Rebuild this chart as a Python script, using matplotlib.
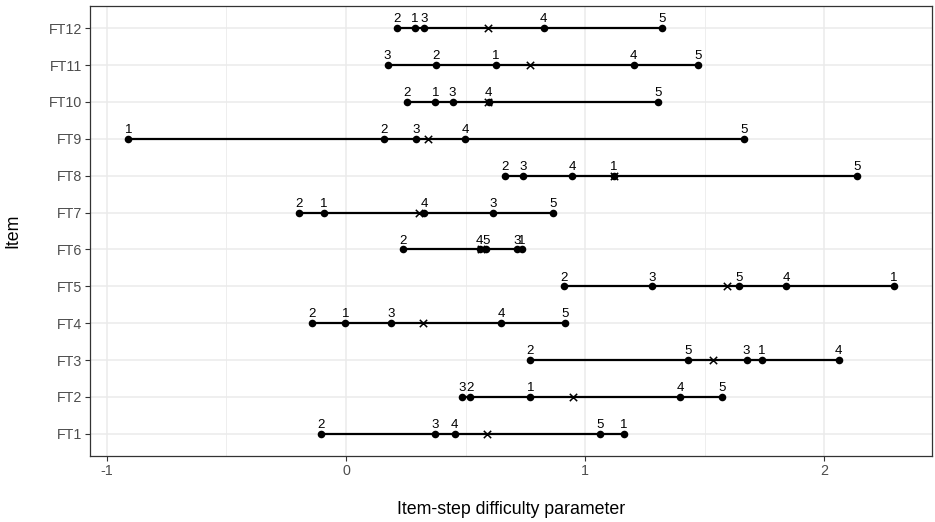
import numpy as np
import matplotlib
matplotlib.use("Agg")
import matplotlib.pyplot as plt
from matplotlib.ticker import MultipleLocator

items = ["FT1", "FT2", "FT3", "FT4", "FT5", "FT6", "FT7", "FT8", "FT9", "FT10", "FT11", "FT12"]
step1 = [1.161, 0.771, 1.738, -0.003, 2.290, 0.734, -0.093, 1.121, -0.910, 0.374, 0.626, 0.289]
step2 = [-0.106, 0.519, 0.771, -0.141, 0.911, 0.237, -0.196, 0.664, 0.159, 0.257, 0.377, 0.212]
step3 = [0.374, 0.484, 1.675, 0.189, 1.278, 0.714, 0.616, 0.739, 0.292, 0.446, 0.174, 0.327]
step4 = [0.454, 1.396, 2.060, 0.649, 1.840, 0.559, 0.327, 0.946, 0.499, 0.596, 1.203, 0.826]
step5 = [1.063, 1.571, 1.431, 0.916, 1.643, 0.586, 0.864, 2.138, 1.665, 1.306, 1.473, 1.321]
step_labels = ["1", "2", "3", "4", "5"]
x_ticks = [-1, 0, 1, 2]

plt.rcParams['font.family'] = ['Liberation Sans', 'DejaVu Sans']

steps = np.array([step1, step2, step3, step4, step5])  # shape (5, 12)
means = steps.mean(axis=0)

fig = plt.figure(figsize=(9.35, 5.22), dpi=100)
ax = fig.add_axes([90/935, 1-456/522, (932-90)/935, (456-6)/522])

ypos = np.arange(len(items))
# segments
ax.hlines(ypos, steps.min(axis=0), steps.max(axis=0), color='black', lw=1.6, zorder=3)
# points and labels
for s in range(5):
    ax.scatter(steps[s], ypos, s=30, color='black', zorder=4, linewidths=0)
    for i in range(len(items)):
        ax.annotate(step_labels[s], (steps[s][i], ypos[i]), xytext=(0, 2.0),
                    textcoords='offset points', ha='center', va='bottom',
                    fontsize=9.5, color='black', zorder=5)
# mean markers
ax.scatter(means, ypos, marker='x', s=28, color='black', linewidths=1.1, zorder=4)

xmin = steps.min(); xmax = steps.max()
pad = 0.05 * (xmax - xmin)
ax.set_xlim(xmin - pad, xmax + pad)
ax.set_ylim(-0.6, len(items) - 1 + 0.6)
ax.set_yticks(ypos)
ax.set_yticklabels(items)
ax.set_xticks(x_ticks)
ax.set_xticklabels(["-1", "0", "1", "2"])
ax.xaxis.set_minor_locator(MultipleLocator(0.5))

ax.grid(True, which='major', color='#EBEBEB', lw=1.1, zorder=0)
ax.grid(True, which='minor', axis='x', color='#EBEBEB', lw=0.6, zorder=0)
ax.tick_params(which='minor', length=0)
ax.tick_params(which='major', length=3.5, width=0.8, color='#333333', labelcolor='#4D4D4D',
               labelsize=10.3, pad=2)
for sp in ax.spines.values():
    sp.set_color('#333333')
    sp.set_linewidth(0.9)
ax.set_axisbelow(True)

ax.set_xlabel("Item-step difficulty parameter", fontsize=12.8, color='black', labelpad=17)
ax.set_ylabel("Item", fontsize=12.8, color='black', labelpad=20)

fig.savefig("out.png", dpi=100, facecolor='white')
